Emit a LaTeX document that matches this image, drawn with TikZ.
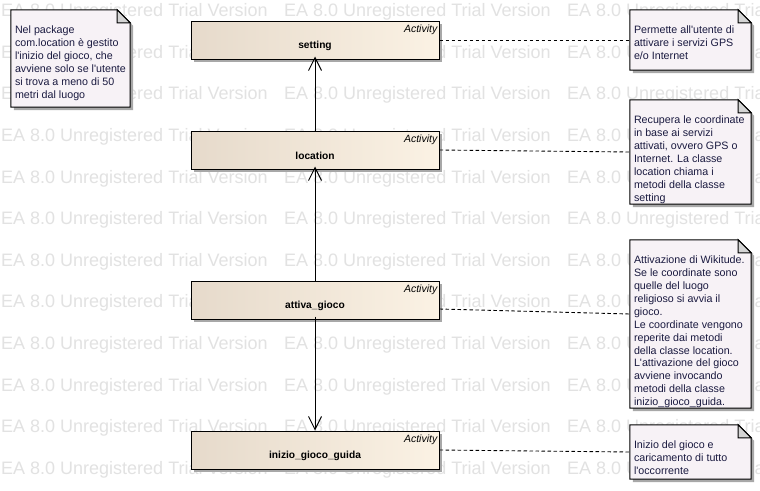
\documentclass[tikz,border=0pt]{standalone}
\usepackage{fontspec}
\setmainfont{Liberation Sans}
\usetikzlibrary{arrows.meta,calc,shadows}

\definecolor{actL}{HTML}{E6DACB}
\definecolor{actR}{HTML}{FBF2E4}
\definecolor{notefill}{HTML}{F7F2F6}
\definecolor{notetext}{HTML}{1A1A40}
\definecolor{wmgray}{HTML}{E2E2E2}
\definecolor{shadowgray}{HTML}{A8A8A8}
\definecolor{foldgray}{HTML}{D4D4D4}

\newcommand\drawnote[1]{%
  \fill[shadowgray] ($(#1.north west)+(3,3)$) -- ($(#1.north east)+(-13+3,3)$) -- ($(#1.north east)+(3,13+3)$) -- ($(#1.south east)+(3,3)$) -- ($(#1.south west)+(3,3)$) -- cycle;
  \filldraw[fill=notefill, draw=black, line width=1pt] (#1.north west) -- ($(#1.north east)+(-13,0)$) -- ($(#1.north east)+(0,13)$) -- (#1.south east) -- (#1.south west) -- cycle;
  \filldraw[fill=foldgray, draw=black, line width=1pt] ($(#1.north east)+(-13,0)$) -- ($(#1.north east)+(-13,13)$) -- ($(#1.north east)+(0,13)$) -- cycle;
}

\tikzset{
  activity/.style={draw=black, line width=1pt, minimum width=248pt, minimum height=38pt, inner sep=0pt,
    left color=actL, right color=actR,
    drop shadow={shadow xshift=3pt, shadow yshift=-3pt, fill=shadowgray, opacity=1}},
  actname/.style={font=\fontsize{10.2}{12}\selectfont\bfseries, text=black, inner sep=0pt},
  stereo/.style={font=\fontsize{10.5}{12}\selectfont\itshape, text=black, inner sep=0pt, anchor=base east},
  notebox/.style={minimum width=121pt, inner sep=0pt},
  notetxt/.style={font=\fontsize{10.7}{12.9}\selectfont, text=notetext, align=left, inner sep=0pt, anchor=north west},
  wm/.style={font=\fontsize{18}{20}\selectfont, text=wmgray, anchor=west, inner sep=0pt},
  conn/.style={draw=black, line width=1pt, -{Straight Barb[length=13pt,width=13pt,line width=1pt]}},
  notelink/.style={draw=black, line width=0.9pt, dash pattern=on 3.5pt off 2.5pt},
}

\begin{document}
\begin{tikzpicture}[x=1pt,y=-1pt]
\useasboundingbox (0,0) rectangle (760,490);
\fill[white] (0,0) rectangle (760,490);

% watermark
\begin{scope}
\clip (0,0) rectangle (760,490);
\foreach \r in {0,...,11}{
  \foreach \c in {0,1,2}{
    \node[wm] (wm\r\c) at (1+\c*283, 12+\r*41.6) {EA 8.0 Unregistered Trial Version};
  }
}
\end{scope}

% activities
\node[activity] (setting) at (315,40) {};
\node[activity] (location) at (315,150) {};
\node[activity] (attiva) at (315,300) {};
\node[activity] (inizio) at (315,450) {};

\foreach \n/\t in {setting/setting, location/location, attiva/attiva\_gioco, inizio/inizio\_gioco\_guida}{
  \node[actname] (\n-lbl) at ($(\n.center)+(0,6)$) {\t};
  \node[stereo] (\n-st) at ($(\n.north east)+(-2,12)$) {Activity};
}

% notes
\node[notebox, minimum width=119pt, minimum height=97pt] (n1) at (70.5,58.5) {};
\node[notebox, minimum height=60pt] (n2) at (690.5,40) {};
\node[notebox, minimum height=104pt] (n3) at (690.5,152) {};
\node[notebox, minimum height=168pt] (n4) at (690.5,324) {};
\node[notebox, minimum height=54pt] (n5) at (690.5,452) {};

\drawnote{n1}
\drawnote{n2}
\drawnote{n3}
\drawnote{n4}
\drawnote{n5}

\node[notetxt] (t1) at ($(n1.north west)+(4,16)$) {Nel package\\com.location è gestito\\l\textquotesingle inizio del gioco, che\\avviene solo se l\textquotesingle utente\\si trova a meno di 50\\metri dal luogo};
\node[notetxt] (t2) at ($(n2.north west)+(4,16)$) {Permette all\textquotesingle utente di\\attivare i servizi GPS\\e/o Internet};
\node[notetxt] (t3) at ($(n3.north west)+(4,16)$) {Recupera le coordinate\\in base ai servizi\\attivati, ovvero GPS o\\Internet. La classe\\location chiama i\\metodi della classe\\setting};
\node[notetxt] (t4) at ($(n4.north west)+(4,16)$) {Attivazione di Wikitude.\\Se le coordinate sono\\quelle del luogo\\religioso si avvia il\\gioco.\\Le coordinate vengono\\reperite dai metodi\\della classe location.\\L\textquotesingle attivazione del gioco\\avviene invocando\\metodi della classe\\inizio\_gioco\_guida.};
\node[notetxt] (t5) at ($(n5.north west)+(4,16)$) {Inizio del gioco e\\caricamento di tutto\\l\textquotesingle occorrente};

% note links
\draw[notelink] (setting.east) -- (n2.west);
\draw[notelink] (location.east) -- (n3.west);
\draw[notelink] ($(attiva.east)+(0,9)$) -- ($(n4.west)+(0,-10)$);
\draw[notelink] (inizio.east) -- (n5.west);

% control flow
\draw[conn, shorten >=-3pt] (location.north) -- (setting.south);
\draw[conn, shorten >=-3pt] (attiva.north) -- (location.south);
\draw[conn, shorten <=-3pt] (attiva.south) -- (inizio.north);
\end{tikzpicture}
\end{document}
